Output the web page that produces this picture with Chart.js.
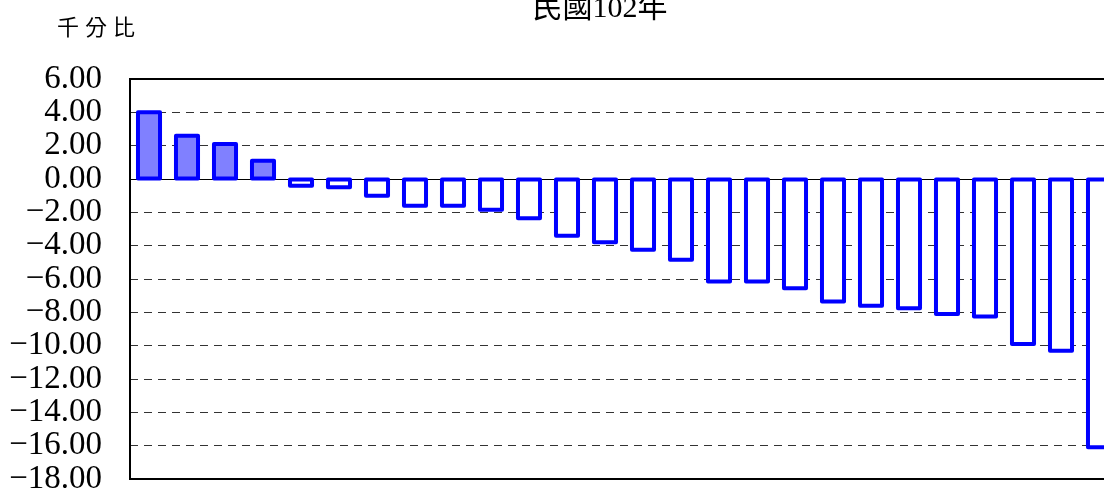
<!DOCTYPE html>
<html>
<head>
<meta charset="utf-8">
<script src="https://cdn.jsdelivr.net/npm/chart.js@4/dist/chart.umd.min.js"></script>
<style>
    html, body { margin: 0; padding: 0; background: #fff; overflow: hidden; }
    .wrap { position: absolute; left: 0; top: 0; width: 1120px; height: 495px; }
</style>
</head>
<body>
<div class="wrap"><canvas id="barChart" width="1120" height="495"></canvas></div>
<script>
    "use strict";

    const titleText = "民國102年";
    const unitText = "千分比";
    const categories = ["1", "2", "3", "4", "5", "6", "7", "8", "9", "10", "11", "12", "13",
        "14", "15", "16", "17", "18", "19", "20", "21", "22", "23", "24", "25", "26"];
    const values = [4.0, 2.6, 2.1, 1.1, -0.4, -0.5, -1.0, -1.6, -1.6, -1.85, -2.35, -3.4, -3.8,
        -4.25, -4.85, -6.15, -6.15, -6.55, -7.35, -7.6, -7.75, -8.1, -8.25, -9.9, -10.3, -16.1];
    const yTicks = [6, 4, 2, 0, -2, -4, -6, -8, -10, -12, -14, -16, -18];

    const BLUE = "#0000ff";
    const LAVENDER = "#8080ff";
    const SERIF = "'Liberation Serif', 'Noto Sans CJK TC', serif";

    // Excel-style outline: stroke centred on the bar edges instead of inside them
    const outlinePlugin = {
        id: "outline",
        afterDatasetsDraw(chart) {
            const ctx = chart.ctx;
            const meta = chart.getDatasetMeta(0);
            ctx.save();
            ctx.strokeStyle = BLUE;
            ctx.lineWidth = 4;
            ctx.lineJoin = "round";
            meta.data.forEach(bar => {
                const p = bar.getProps(["x", "y", "base", "width"], true);
                const top = Math.min(p.y, p.base);
                ctx.strokeRect(p.x - p.width / 2, top, p.width, Math.abs(p.base - p.y));
            });
            ctx.restore();
        }
    };

    const framePlugin = {
        id: "frame",
        beforeDatasetsDraw(chart) {
            const { ctx, chartArea: a, scales } = chart;
            const y0 = scales.y.getPixelForValue(0);
            ctx.save();
            ctx.strokeStyle = "#000";
            ctx.lineWidth = 1;
            ctx.beginPath();
            ctx.moveTo(a.left, Math.round(y0) + 0.5);
            ctx.lineTo(a.right, Math.round(y0) + 0.5);
            ctx.stroke();
            ctx.lineWidth = 2;
            ctx.strokeRect(a.left, a.top, a.right - a.left, a.bottom - a.top);
            ctx.restore();
        },
        afterDraw(chart) {
            const ctx = chart.ctx;
            ctx.save();
            ctx.fillStyle = "#000";
            ctx.textBaseline = "alphabetic";
            ctx.textAlign = "center";
            ctx.font = "30px " + SERIF;
            ctx.fillText(titleText, 600, 17);
            ctx.font = "22px 'Noto Sans CJK TC', sans-serif";
            ctx.letterSpacing = "6px";
            ctx.textAlign = "left";
            ctx.fillText(unitText, 57, 35);
            ctx.restore();
        }
    };

    new Chart(document.getElementById("barChart").getContext("2d"), {
        type: "bar",
        data: {
            labels: categories,
            datasets: [{
                data: values,
                backgroundColor: values.map(v => v >= 0 ? LAVENDER : "#ffffff"),
                borderWidth: 0,
                barPercentage: 0.58,
                categoryPercentage: 1
            }]
        },
        options: {
            responsive: false,
            animation: false,
            devicePixelRatio: 1,
            layout: { padding: { left: 0, right: 2, top: 79, bottom: 16 } },
            plugins: { legend: { display: false }, tooltip: { enabled: false }, title: { display: false } },
            scales: {
                x: { display: false },
                y: {
                    min: -18,
                    max: 6,
                    afterBuildTicks(scale) { scale.ticks = yTicks.map(v => ({ value: v })); },
                    afterFit(scale) { scale.width = 130; scale.paddingTop = 0; scale.paddingBottom = 0; },
                    border: { display: false, dash: [8, 6] },
                    grid: { color: "#333", lineWidth: 1, drawTicks: false },
                    ticks: {
                        autoSkip: false,
                        padding: 28,
                        color: "#000",
                        font: { family: SERIF, size: 33, lineHeight: 1 },
                        callback: v => (v < 0 ? "\u2212" : "") + Math.abs(v).toFixed(2)
                    }
                }
            }
        },
        plugins: [framePlugin, outlinePlugin]
    });
</script>
</body>
</html>
